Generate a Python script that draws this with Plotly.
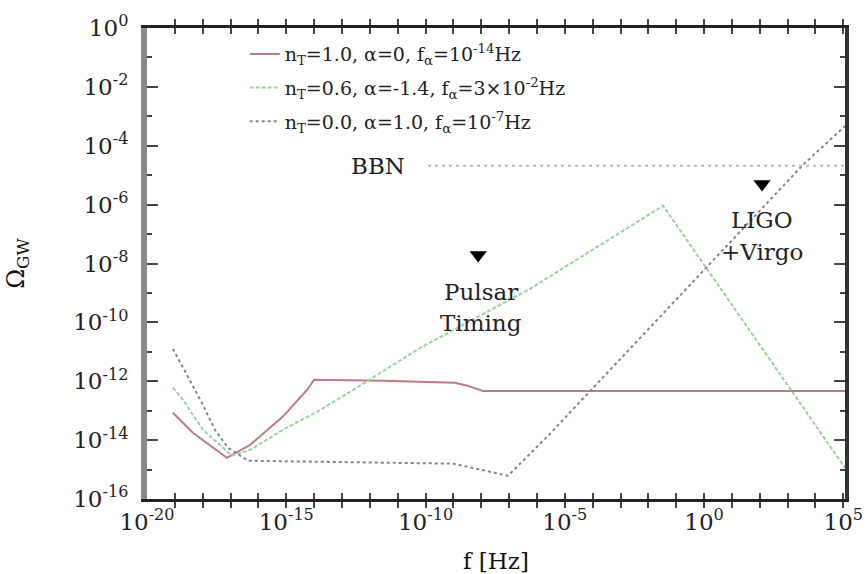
import plotly.graph_objects as go

# ---- data ----
red_f = [10**-19.07, 10**-18.35, 10**-17.13, 10**-16.3, 10**-15.12, 10**-14.25, 10**-14.0,
         10**-11.5, 10**-8.94, 10**-8.5, 10**-7.94, 10**5.06]
red_omega = [10**-13.07, 10**-13.75, 10**-14.6, 10**-14.16, 10**-13.2, 10**-12.29, 10**-11.95,
             10**-11.98, 10**-12.05, 10**-12.15, 10**-12.33, 10**-12.33]

green_f = [10**-19.07, 10**-18.71, 10**-17.99, 10**-16.95, 10**-16.3, 10**-15.12, 10**-13.9,
           10**-12.71, 10**-10.2, 10**-6.25, 10**-1.47, 10**5.06]
green_omega = [10**-12.22, 10**-12.63, 10**-13.65, 10**-14.53, 10**-14.33, 10**-13.65, 10**-13.04,
               10**-12.36, 10**-10.87, 10**-8.86, 10**-6.04, 10**-14.94]

blue_f = [10**-19.07, 10**-18.53, 10**-18.03, 10**-17.56, 10**-17.09, 10**-16.37, 10**-9.0,
          10**-8.04, 10**-7.04, 10**-5.6, 10**3.55, 10**5.06]
blue_omega = [10**-10.9, 10**-11.85, 10**-12.73, 10**-13.65, 10**-14.26, 10**-14.7, 10**-14.8,
              10**-15.0, 10**-15.21, 10**-13.85, 10**-4.65, 10**-3.33]

bbn_f = [10**-9.91, 10**5.06]
bbn_omega = [2.1e-5, 2.1e-5]

limit_names = ["Pulsar Timing", "LIGO+Virgo"]
limit_f = [10**-8.11, 10**2.08]
limit_omega = [10**-7.71, 10**-5.3]

series_names = [
    "n<sub>T</sub>=1.0, α=0, f<sub>α</sub>=10<sup>-14</sup>Hz",
    "n<sub>T</sub>=0.6, α=-1.4, f<sub>α</sub>=3×10<sup>-2</sup>Hz",
    "n<sub>T</sub>=0.0, α=1.0, f<sub>α</sub>=10<sup>-7</sup>Hz",
]

x_tick_exp = list(range(-20, 6))
y_major_exp = list(range(-16, 1, 2))
y_minor_exp = list(range(-15, 0, 2))

FONT = "DejaVu Serif"

fig = go.Figure()
fig.add_trace(go.Scatter(x=red_f, y=red_omega, mode="lines", name=series_names[0],
                         legendgroup="a",
                         line=dict(color="rgb(192,122,132)", width=2)))
fig.add_trace(go.Scatter(x=green_f, y=green_omega, mode="lines", name=series_names[1],
                         legendgroup="b",
                         line=dict(color="rgb(150,215,150)", width=2, dash="4px,2px")))
fig.add_trace(go.Scatter(x=blue_f, y=blue_omega, mode="lines", name=series_names[2],
                         legendgroup="c",
                         line=dict(color="rgb(135,125,165)", width=2, dash="3px,3px")))
fig.add_trace(go.Scatter(x=bbn_f, y=bbn_omega, mode="lines", showlegend=False,
                         line=dict(color="rgb(185,185,175)", width=2, dash="3px,4px")))
fig.add_trace(go.Scatter(x=limit_f, y=limit_omega, mode="markers", showlegend=False,
                         text=limit_names,
                         marker=dict(symbol="triangle-down", size=15, color="black")))
# empty trace to carry the right-hand frame axis
fig.add_trace(go.Scatter(x=[], y=[], yaxis="y2", showlegend=False, hoverinfo="skip"))

ann = dict(showarrow=False, font=dict(family=FONT, size=23, color="#222"), xref="x", yref="y")
fig.add_annotation(x=-11.71, y=-4.69, text="BBN", **ann)
fig.add_annotation(x=-8.0, y=-8.96, text="Pulsar", **ann)
fig.add_annotation(x=-8.0, y=-10.02, text="Timing", **ann)
fig.add_annotation(x=2.08, y=-6.52, text="LIGO", **ann)
fig.add_annotation(x=2.08, y=-7.61, text="+Virgo", **ann)

fig.update_xaxes(type="log", range=[-20, 5.06], automargin=False,
                 tickvals=[10**e for e in x_tick_exp],
                 ticktext=[("10<sup>%d</sup>" % e) if e % 5 == 0 else "" for e in x_tick_exp],
                 ticks="inside", ticklen=6, tickcolor="#444", tickwidth=2,
                 showline=True, linecolor="#222", linewidth=3, mirror="allticks",
                 showgrid=False, zeroline=False,
                 tickfont=dict(family=FONT, size=23, color="#222"),
                 title=dict(text="f [Hz]", font=dict(family=FONT, size=23, color="#111"), standoff=23))

yticks = dict(type="log", range=[-16, 0], automargin=False,
              tickvals=[10**e for e in y_major_exp],
              ticks="inside", ticklen=11, tickcolor="#444", tickwidth=2,
              minor=dict(tickvals=[10**e for e in y_minor_exp], ticks="inside", ticklen=5,
                         tickcolor="#444", tickwidth=2),
              showgrid=False, zeroline=False)

fig.update_layout(
    yaxis=dict(**yticks,
               ticktext=["10<sup>%d</sup>" % e for e in y_major_exp],
               showline=True, linecolor="#8a8a8a", linewidth=6, mirror=False,
               ticklabelstandoff=8,
               tickfont=dict(family=FONT, size=23, color="#222"),
               title=dict(text="Ω<sub>GW</sub>", font=dict(family=FONT, size=24, color="#111"),
                          standoff=44)),
    yaxis2=dict(**yticks, overlaying="y", side="right", showticklabels=False,
                showline=True, linecolor="#333", linewidth=4),
    width=867, height=574,
    margin=dict(l=147, r=22, t=28, b=75),
    plot_bgcolor="white", paper_bgcolor="white",
    showlegend=True,
    legend=dict(x=0.14, y=0.985, xanchor="left", yanchor="top",
                bgcolor="rgba(0,0,0,0)", font=dict(family=FONT, size=19, color="#222"),
                tracegroupgap=6),
)

fig.write_html("out.html")
